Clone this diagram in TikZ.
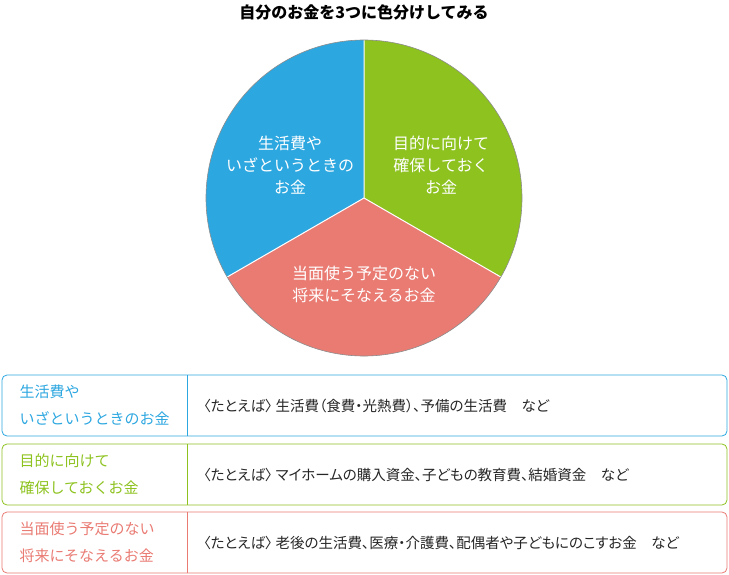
\documentclass[tikz,border=0pt]{standalone}
\usepackage{fontspec}
\newfontfamily\jp{Noto Sans CJK JP}
\newfontfamily\jpp[RawFeature=+palt]{Noto Sans CJK JP}
\definecolor{cblue}{HTML}{2DA7E0}
\definecolor{cgreen}{HTML}{8DC21F}
\definecolor{cred}{HTML}{E97B73}
\begin{document}
\begin{tikzpicture}[x=1pt,y=-1pt,font=\jp,
  pietext/.style={white,font=\jp\fontsize{16}{22}\selectfont,align=center},
  lbl/.style={anchor=west,font=\jp\fontsize{15}{27}\selectfont,align=left},
  body/.style={anchor=west,font=\jpp\fontsize{14.5}{17}\selectfont,text=black!85}]
\useasboundingbox (0,0) rectangle (729,575);
\node[font=\jp\bfseries\fontsize{16}{18}\selectfont] (title) at (364,12) {自分のお金を3つに色分けしてみる};
\coordinate (c) at (364,198);
\fill[cblue] (c) -- ++(0,-158) arc[start angle=-90,end angle=-210,radius=158] -- cycle;
\fill[cgreen] (c) -- ++(0,-158) arc[start angle=-90,end angle=30,radius=158] -- cycle;
\fill[cred] (c) -- ++(30:158) arc[start angle=30,end angle=150,radius=158] -- cycle;
\draw[white,line width=1pt] (c) -- ++(0,-158) (c) -- ++(30:158) (c) -- ++(150:158);
\draw[black!45,line width=0.6pt] (c) circle[radius=158];
\node[pietext] (tb) at (290,165) {生活費や\\いざというときの\\お金};
\node[pietext] (tg) at (441,165) {目的に向けて\\確保しておく\\お金};
\node[pietext] (tr) at (364,284) {当面使う予定のない\\将来にそなえるお金};
\foreach \y/\col/\la/\tx [count=\i] in {375/cblue/{生活費や\\いざというときのお金}/{〈たとえば〉 生活費（食費・光熱費）、予備の生活費　など},
  444/cgreen/{目的に向けて\\確保しておくお金}/{〈たとえば〉 マイホームの購入資金、子どもの教育費、結婚資金　など},
  512/cred/{当面使う予定のない\\将来にそなえるお金}/{〈たとえば〉 老後の生活費、医療・介護費、配偶者や子どもにのこすお金　など}}{
  \draw[\col,line width=0.8pt,rounded corners=5pt] (2,\y) rectangle (727,\y+61);
  \draw[\col,line width=0.8pt] (187,\y) -- (187,\y+61);
  \node[lbl,text=\col] (l\i) at (16,\y+30.5) {\la};
  \node[body] (b\i) at (200,\y+30.5) {\tx};
}
\end{tikzpicture}
\end{document}
